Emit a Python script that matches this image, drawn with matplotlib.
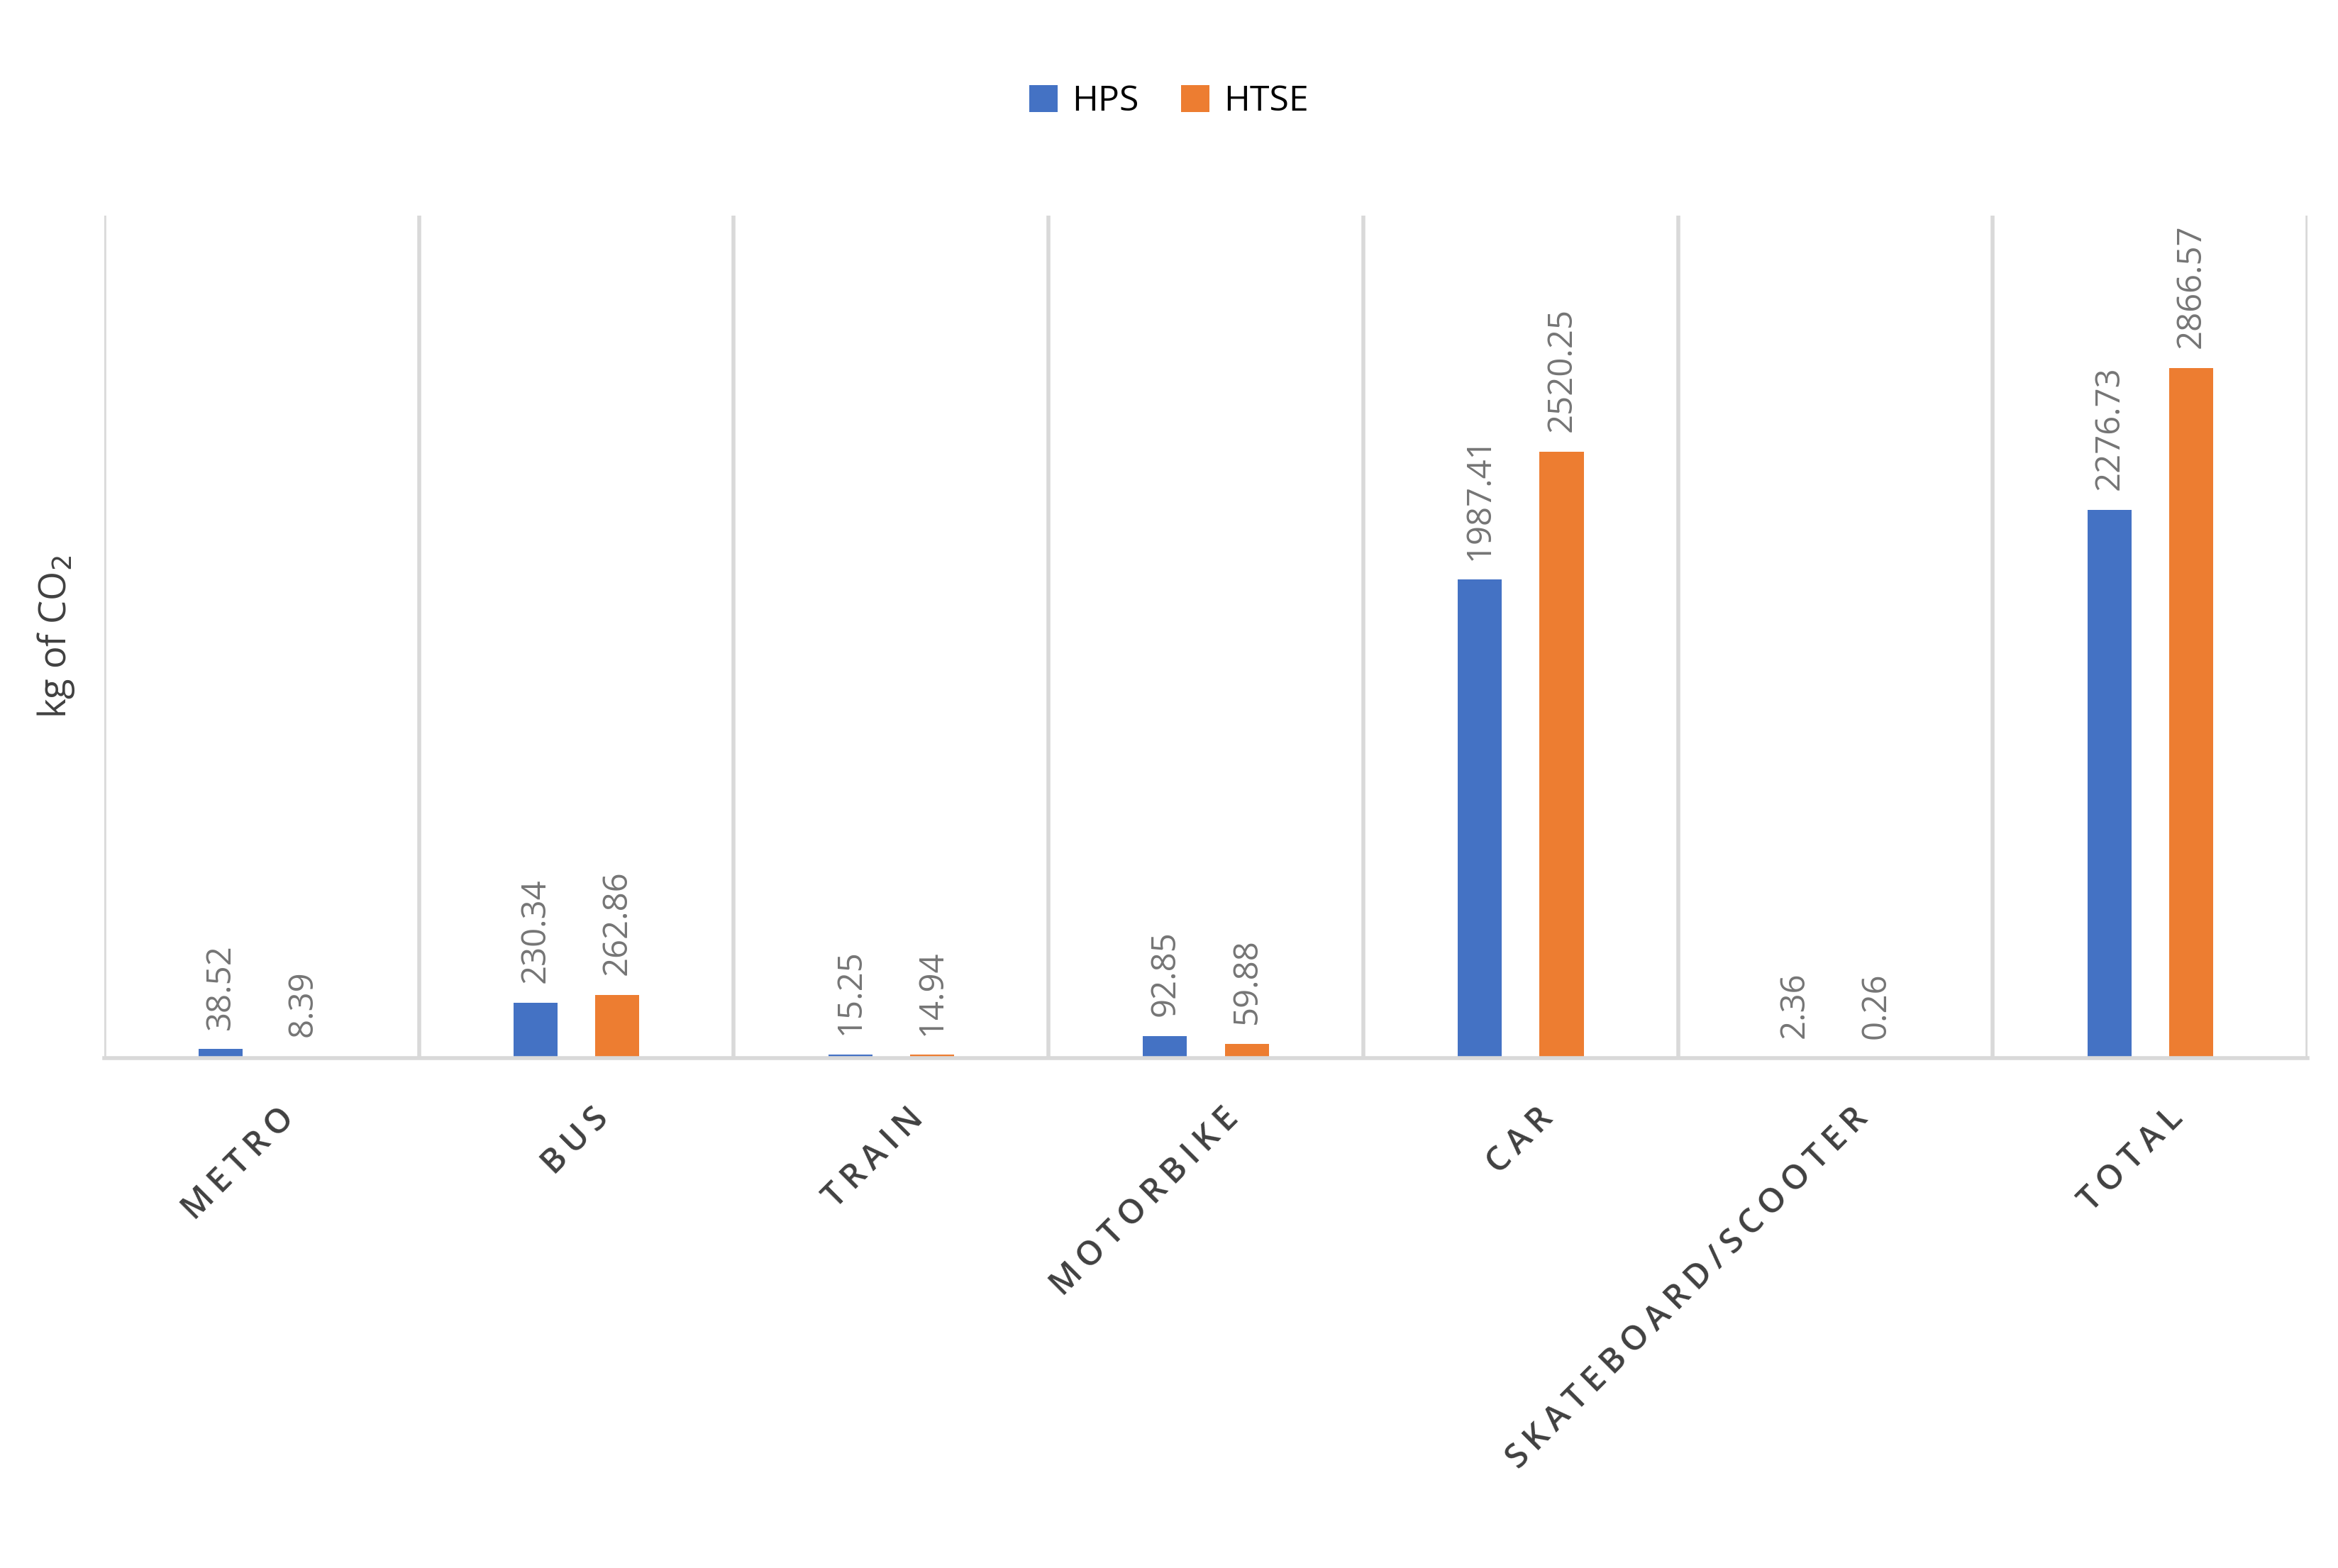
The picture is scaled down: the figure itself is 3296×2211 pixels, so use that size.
import matplotlib.pyplot as plt
import numpy as np

categories = ['METRO', 'BUS', 'TRAIN', 'MOTORBIKE', 'CAR', 'SKATEBOARD/SCOOTER', 'TOTAL']
hps = [38.52, 230.34, 15.25, 92.85, 1987.41, 2.36, 2276.73]
htse = [8.39, 262.86, 14.94, 59.88, 2520.25, 0.26, 2866.57]
series_names = ['HPS', 'HTSE']
colors = ['#4472C4', '#ED7D31']

plt.rcParams['font.family'] = ['Open Sans', 'DejaVu Sans']

fig = plt.figure(figsize=(16.48, 11.055), dpi=200)
ax = fig.add_axes([0.0446, 0.325, 0.9424, 0.5376])

x = np.arange(len(categories))
w = 0.14
off = 0.13
for vals, name, c, d in zip([hps, htse], series_names, colors, [-off, off]):
    bars = ax.bar(x + d, vals, w, color=c, label=name)
    for b, v in zip(bars, vals):
        ax.annotate('%.2f' % v, (b.get_x() + b.get_width() / 2, v), xytext=(0, 10),
                    textcoords='offset points', rotation=90, ha='center', va='bottom',
                    fontsize=17, color='#757575')

ax.set_xlim(-0.5, len(categories) - 0.5)
ax.set_ylim(0, 3500)
for b in np.arange(-0.5, len(categories), 1.0):
    ax.axvline(b, color='#d9d9d9', lw=2, zorder=0)
for s in ['top', 'right', 'left']:
    ax.spines[s].set_visible(False)
ax.spines['bottom'].set_color('#d9d9d9')
ax.spines['bottom'].set_linewidth(2)
ax.set_yticks([])
ax.set_xticks(x + 0.05)
ax.set_xticklabels(['\u2009'.join(c) for c in categories], rotation=45, ha='right',
                   rotation_mode='anchor', fontsize=17, color='#404040', fontweight='semibold')
ax.tick_params(axis='x', length=0, pad=22)
ax.set_ylabel('kg of CO$_2$', fontsize=19, color='#404040', labelpad=14)

fig.legend(loc='center', bbox_to_anchor=(0.5, 0.935), ncol=2, frameon=False,
           fontsize=18, handlelength=0.8, handleheight=0.8, columnspacing=1.2, handletextpad=0.4)

fig.savefig('out.png')
